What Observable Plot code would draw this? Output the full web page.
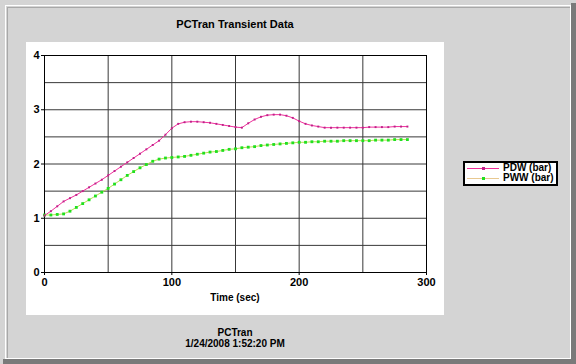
<!DOCTYPE html>
<html>
<head>
<meta charset="utf-8">
<script src="https://cdn.jsdelivr.net/npm/d3@7"></script>
<script src="https://cdn.jsdelivr.net/npm/@observablehq/plot@0.6"></script>
<style>
  html, body { margin: 0; padding: 0; background: #d4d4d4; }
  #wrap { position: relative; width: 576px; height: 364px; background: #d4d4d4; overflow: hidden;
          font-family: "Liberation Sans", Arial, sans-serif; }
  .abs { position: absolute; }
  .txt { font-weight: bold; color: #000; white-space: nowrap; text-align: center; }
  #chart { position: absolute; left: 0; top: 0; }
  #chart svg { background: transparent !important; }
</style>
</head>
<body>
<div id="wrap">
  <div class="abs" style="left:571px;top:3px;width:5px;height:361px;background:#7a7a7a"></div>
  <div class="abs" style="left:3px;top:359px;width:573px;height:5px;background:#7a7a7a"></div>
  <div class="abs" style="left:5px;top:5px;width:564px;height:352px;border:1px solid #ffffff"></div>
  <div class="abs" style="left:7px;top:7px;width:562px;height:350px;border-top:1px solid #a8a8a8;border-left:1px solid #a8a8a8"></div>
  <div class="abs" style="left:26px;top:42px;width:418px;height:273px;background:#ffffff"></div>
  <div class="abs txt" style="left:135px;top:17px;width:200px;font-size:11px;line-height:14px">PCTran Transient Data</div>
  <div class="abs txt" style="left:135px;top:291px;width:200px;font-size:10px;line-height:13px">Time (sec)</div>
  <div class="abs txt" style="left:135px;top:327px;width:200px;font-size:10px;line-height:11px">PCTran<br>1/24/2008 1:52:20 PM</div>
  <div id="chart"></div>
  <div class="abs" id="legend" style="left:463px;top:161px;width:91px;height:21px;border:2px solid #000;background:#fff"></div>
</div>
<script>
const times = d3.range(0, 290, 5);
const pdw = [1.05,1.13,1.22,1.31,1.37,1.43,1.50,1.57,1.64,1.71,
             1.79,1.87,1.95,2.03,2.11,2.19,2.27,2.35,2.43,2.54,
             2.66,2.74,2.77,2.78,2.78,2.77,2.76,2.74,2.72,2.70,
             2.68,2.67,2.75,2.82,2.87,2.90,2.91,2.91,2.89,2.85,
             2.79,2.74,2.71,2.69,2.67,2.67,2.67,2.67,2.67,2.67,
             2.67,2.68,2.68,2.68,2.68,2.69,2.69,2.69];
const pww = [1.06,1.06,1.07,1.08,1.13,1.20,1.27,1.34,1.41,1.48,
             1.55,1.63,1.71,1.79,1.86,1.93,1.99,2.05,2.09,2.11,
             2.12,2.13,2.14,2.16,2.18,2.20,2.22,2.23,2.25,2.27,
             2.28,2.30,2.31,2.32,2.34,2.35,2.36,2.37,2.38,2.39,
             2.40,2.40,2.41,2.41,2.42,2.42,2.42,2.43,2.43,2.43,
             2.43,2.43,2.44,2.44,2.44,2.45,2.45,2.45];
const seriesNames = ["PDW (bar)", "PWW (bar)"];
const xTicks = [0, 100, 200, 300];
const yTicks = [0, 1, 2, 3, 4];
const xGrid = d3.range(0, 301, 50);
const yGrid = d3.range(0, 4.01, 0.5);

const lineColor = {"PDW (bar)": "#f0309a", "PWW (bar)": "#b8e050"};
const legendLineColor = {"PDW (bar)": "#f0309a", "PWW (bar)": "#e8c890"};
const dotColor = {"PDW (bar)": "#c0208a", "PWW (bar)": "#20e020"};

const data = [];
times.forEach((t, i) => {
  data.push({t, v: pdw[i], s: seriesNames[0]});
  data.push({t, v: pww[i], s: seriesNames[1]});
});

const chart = Plot.plot({
  width: 576,
  height: 364,
  marginLeft: 44,
  marginRight: 150,
  marginTop: 55,
  marginBottom: 92,
  style: {background: "transparent", fontFamily: "Liberation Sans, Arial, sans-serif"},
  x: {domain: [0, 300]},
  y: {domain: [0, 4]},
  marks: [
    Plot.ruleX(xGrid, {stroke: "#383838", strokeWidth: 1}),
    Plot.ruleY(yGrid, {stroke: "#383838", strokeWidth: 1}),
    Plot.frame({stroke: "#000"}),
    Plot.axisX({ticks: xTicks, tickFormat: d3.format("d"), tickSize: 3, tickPadding: 3, label: null, fontSize: 11, fontWeight: "bold", fill: "#000"}),
    Plot.axisY({ticks: yTicks, tickFormat: d3.format("d"), tickSize: 3, tickPadding: 2, label: null, fontSize: 11, fontWeight: "bold", fill: "#000"}),
    Plot.line(data.filter(d => d.s === seriesNames[1]), {x: "t", y: "v", stroke: lineColor[seriesNames[1]], strokeWidth: 1}),
    Plot.dot(data.filter(d => d.s === seriesNames[1]), {x: "t", y: "v", symbol: "square", r: 1.6, fill: dotColor[seriesNames[1]], stroke: "none"}),
    Plot.line(data.filter(d => d.s === seriesNames[0]), {x: "t", y: "v", stroke: lineColor[seriesNames[0]], strokeWidth: 1}),
    Plot.dot(data.filter(d => d.s === seriesNames[0]), {x: "t", y: "v", symbol: "square", r: 1.1, fill: dotColor[seriesNames[0]], stroke: "none"})
  ]
});
document.getElementById("chart").appendChild(chart);

// legend
const lg = document.getElementById("legend");
seriesNames.forEach((name, i) => {
  const row = document.createElement("div");
  row.style.cssText = `position:absolute;left:0;top:${i * 10}px;height:10px;width:91px;`;
  row.innerHTML =
    `<div style="position:absolute;left:2px;top:5px;width:32px;height:1px;background:${legendLineColor[name]}"></div>` +
    `<div style="position:absolute;left:17px;top:4px;width:3px;height:3px;background:${dotColor[name]}"></div>` +
    `<div style="position:absolute;left:38px;top:0;font-size:10px;line-height:10px;font-weight:bold;white-space:nowrap">${name}</div>`;
  lg.appendChild(row);
});
</script>
</body>
</html>
